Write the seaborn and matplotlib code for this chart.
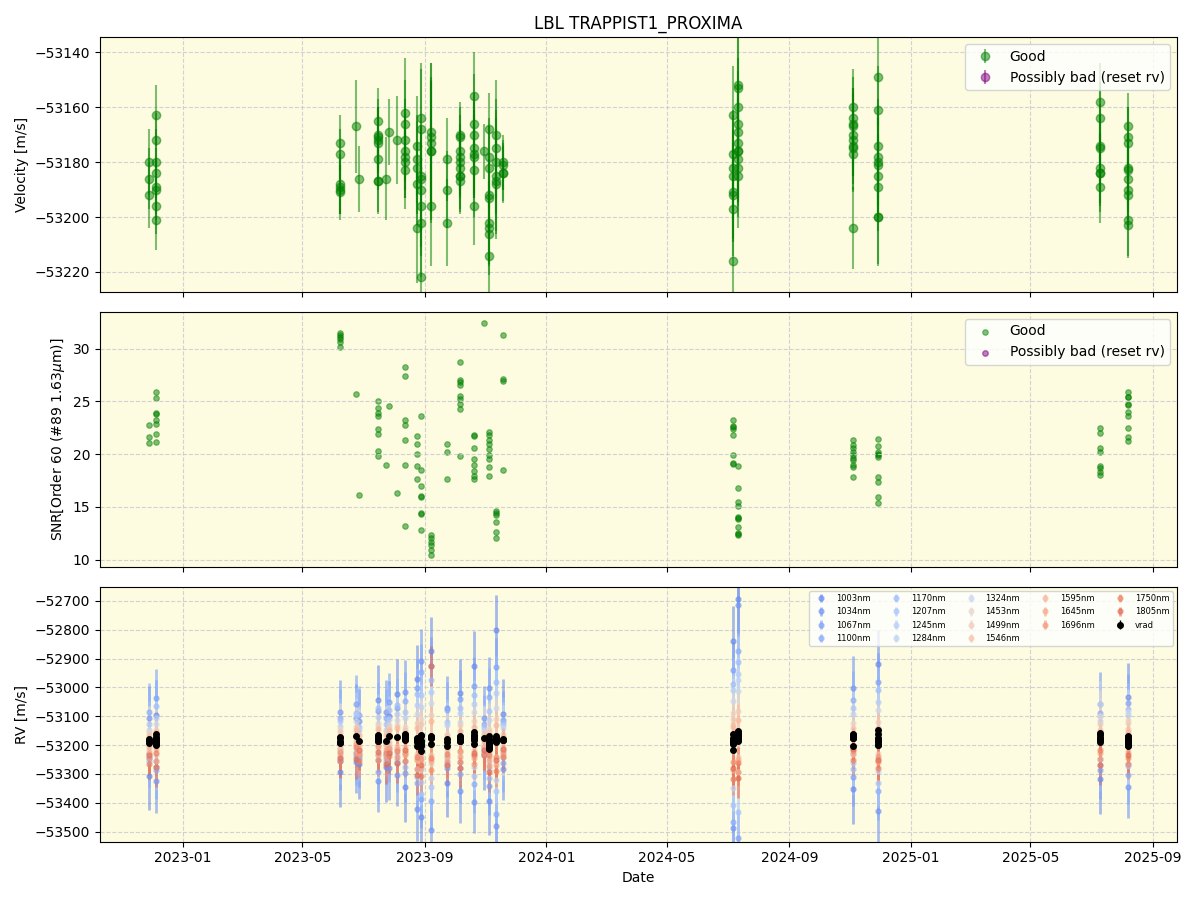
import numpy as np
import pandas as pd
import matplotlib
matplotlib.use("Agg")
import matplotlib.pyplot as plt
import seaborn as sns

# observing nights and number of exposures per night
night_dates = ["2022-11-28", "2022-12-05", "2023-06-08", "2023-06-24", "2023-06-27",
               "2023-07-16", "2023-07-24", "2023-07-27", "2023-08-04", "2023-08-12",
               "2023-08-24", "2023-08-28", "2023-09-07", "2023-09-23", "2023-10-06",
               "2023-10-20", "2023-10-30", "2023-11-04", "2023-11-11", "2023-11-19",
               "2024-07-06", "2024-07-11", "2024-11-04", "2024-11-29", "2025-07-10",
               "2025-08-07"]
n_per_night = [3, 8, 6, 1, 1, 8, 1, 1, 1, 7, 5, 8, 6, 3, 9, 8, 1, 9, 6, 4, 8, 11, 10, 10, 8, 10]

rv = [-53180, -53186, -53192,
      -53163, -53172, -53180, -53184, -53189, -53190, -53196, -53201,
      -53173, -53177, -53189, -53190, -53191, -53188,
      -53167,
      -53186,
      -53165, -53170, -53171, -53172, -53173, -53179, -53187, -53187,
      -53186,
      -53169,
      -53172,
      -53162, -53166, -53172, -53176, -53178, -53180, -53183,
      -53174, -53179, -53182, -53188, -53204,
      -53164, -53168, -53185, -53186, -53190, -53196, -53202, -53222,
      -53169, -53171, -53173, -53176, -53176, -53196,
      -53179, -53190, -53202,
      -53170, -53171, -53176, -53178, -53180, -53182, -53185, -53185, -53187,
      -53156, -53166, -53170, -53175, -53177, -53178, -53183, -53196,
      -53176,
      -53168, -53178, -53182, -53192, -53193, -53202, -53204, -53206, -53214,
      -53170, -53175, -53180, -53185, -53187, -53188,
      -53180, -53181, -53184, -53184,
      -53163, -53177, -53182, -53185, -53191, -53192, -53197, -53216,
      -53152, -53153, -53160, -53166, -53169, -53173, -53176, -53176, -53179, -53182, -53185,
      -53160, -53164, -53166, -53167, -53170, -53172, -53174, -53175, -53177, -53204,
      -53149, -53161, -53174, -53178, -53180, -53181, -53185, -53189, -53200, -53200,
      -53158, -53164, -53174, -53175, -53182, -53184, -53184, -53189,
      -53167, -53171, -53173, -53182, -53183, -53186, -53190, -53192, -53201, -53203]

rv_err = [12, 11, 12,
          11, 10, 12, 9, 10, 11, 10, 11,
          10, 9, 10, 9, 10, 11,
          17,
          12,
          12, 13, 11, 12, 13, 11, 12, 11,
          15,
          12,
          16,
          20, 16, 15, 14, 15, 13, 14,
          18, 16, 17, 15, 20,
          20, 22, 18, 19, 21, 18, 20, 19,
          25, 27, 24, 26, 25, 22,
          15, 14, 16,
          12, 11, 13, 12, 12, 11, 13, 12, 12,
          16, 18, 15, 17, 16, 15, 17, 14,
          10,
          13, 14, 15, 13, 14, 15, 14, 15, 14,
          20, 18, 19, 21, 18, 20,
          10, 9, 11, 10,
          18, 16, 19, 17, 18, 16, 17, 14,
          20, 22, 18, 19, 17, 20, 18, 19, 17, 18, 19,
          14, 15, 13, 14, 15, 13, 14, 15, 14, 15,
          18, 16, 17, 15, 16, 17, 15, 16, 18, 17,
          14, 13, 15, 12, 13, 12, 14, 13,
          12, 11, 13, 12, 13, 12, 11, 12, 13, 12]

snr = [22.8, 21.6, 21.1,
       25.9, 25.3, 23.9, 23.8, 23.2, 22.9, 21.9, 21.2,
       31.5, 31.3, 31.1, 30.9, 30.6, 30.2,
       25.7,
       16.1,
       25.0, 24.4, 23.9, 23.6, 22.4, 21.9, 20.3, 19.8,
       19.0,
       24.6,
       16.3,
       28.3, 27.4, 23.2, 22.8, 21.3, 19.0, 13.2,
       21.7, 21.0, 20.0, 18.9, 17.6,
       23.6, 18.5, 17.0, 16.0, 15.9, 14.4, 14.3, 12.8,
       12.3, 12.0, 11.7, 11.4, 10.9, 10.4,
       21.0, 20.2, 17.6,
       28.7, 27.0, 26.8, 26.6, 25.5, 25.2, 24.8, 24.3, 19.8,
       21.8, 21.7, 20.6, 19.5, 19.0, 18.4, 17.9, 17.6,
       32.4,
       22.1, 21.8, 21.3, 21.0, 20.5, 19.9, 19.5, 18.8, 17.9,
       14.6, 14.4, 14.2, 13.6, 12.6, 12.0,
       18.5, 31.3, 27.1, 26.9,
       23.2, 22.7, 22.6, 22.4, 21.8, 19.9, 19.2, 19.1,
       18.9, 16.8, 15.5, 15.1, 14.0, 13.9, 13.8, 13.1, 12.5, 12.4, 12.3,
       21.3, 20.9, 20.6, 20.2, 19.9, 19.6, 19.4, 19.0, 18.8, 17.8,
       21.4, 20.8, 20.2, 20.0, 19.9, 19.7, 17.8, 17.4, 15.9, 15.4,
       22.5, 22.0, 20.6, 20.2, 18.9, 18.7, 18.3, 18.0,
       25.9, 25.4, 25.4, 24.8, 24.7, 24.0, 23.6, 22.5, 21.6, 21.25]

# per-band RVs: nightly vrad and offset of each band from it (m/s)
night_vrad = [-53186, -53186, -53185, -53167, -53186, -53173, -53186, -53169, -53172, -53176,
              -53182, -53188, -53175, -53190, -53180, -53176, -53176, -53193, -53180, -53182,
              -53188, -53173, -53172, -53180, -53178, -53184]
wavelengths = [1003, 1034, 1067, 1100, 1170, 1207, 1245, 1284, 1324,
               1453, 1499, 1546, 1595, 1645, 1696, 1750, 1805]
wave_err = [120, 110, 100, 100, 90, 80, 80, 80, 80, 90, 70, 60, 55, 50, 50, 55, 70]

dv_1003 = [-120, 90, -110, 60, -80, 130, -90, 70, 150, -170, 210, -260, 300, -140, 160, 250, -60, -200, 380, 90, 350, 480, -180, 260, -140, 150]
dv_1034 = [80, -140, 100, -90, 70, -150, 100, -110, -130, 160, -240, 280, -320, 120, -180, -220, 70, 190, -300, -100, -300, 460, 170, -250, 120, -160]
dv_1067 = [-60, 150, -70, 110, -60, 90, -50, 120, 100, -120, 180, -200, 250, -90, 140, 180, -40, -150, 250, 70, 250, -350, -140, 200, -110, 130]
dv_1100 = [100, -100, 80, -70, 90, -120, 80, -60, -90, 130, -150, 240, -220, 110, -120, -160, 50, 160, -260, -80, -280, 300, 130, -180, 90, -120]
dv_1170 = [-70, 120, -60, 80, -50, 100, -70, 90, 110, -100, 160, -180, 200, -80, 110, 150, -50, -120, 200, 60, 200, 260, -110, 170, -90, 110]
dv_1207 = [60, -90, 70, -60, 50, -80, 60, -50, -80, 90, -130, 160, -170, 70, -100, -130, 40, 110, -180, -60, -220, -260, 100, -150, 80, -90]
dv_1245 = [-50, 80, -40, 70, -40, 70, -50, 60, 80, -80, 120, -140, 160, -60, 90, 120, -30, -90, 160, 50, 180, 220, -90, 130, -70, 90]
dv_1284 = [40, -70, 50, -50, 40, -60, 40, -40, -60, 70, -100, 120, -140, 60, -80, -100, 30, 80, -140, -40, -160, 200, 80, -110, 60, -80]
dv_1324 = [-40, 60, -30, 50, -30, 50, -40, 40, 60, -50, 90, -100, 120, -50, 60, 90, -30, -70, 110, 40, 140, 160, -60, 100, 120, 100]
dv_1453 = [30, -50, 40, -30, 20, -40, 30, -30, -40, 40, -70, 80, -90, 30, -50, -60, 20, 50, -80, -30, 100, -120, 50, -70, 80, 70]
dv_1499 = [-30, 40, -20, 30, -30, 40, -20, 30, 40, -40, 60, -70, 80, -30, 50, 60, -20, -50, 70, 20, 80, 90, -40, 60, 50, 60]
dv_1546 = [20, -30, 30, -20, 20, -30, 20, -20, -30, 30, -50, 60, -60, 20, -40, -40, 10, 40, -60, -20, 60, -70, 30, -50, 30, 40]
dv_1595 = [-20, 30, -30, 20, -20, 30, -10, 20, 30, -30, 40, -50, 60, -20, 30, 40, -10, -30, 50, 10, 50, 60, -30, 40, 20, 30]
dv_1645 = [-40, -20, -50, -30, -40, -60, -30, -50, -40, -60, -70, -90, -80, -50, -60, -70, -30, -60, -90, -40, -100, -80, -60, -80, -50, -40]
dv_1696 = [-60, -70, -40, -60, -50, -30, -60, -40, -70, -50, -100, -60, -110, -70, -40, -90, -50, -80, -60, -50, -70, -120, -50, -60, -70, -60]
dv_1750 = [-80, -40, -70, -40, -70, -80, -40, -70, -50, -80, -60, -120, -70, -40, -80, -60, -60, -40, -110, -60, -130, -90, -80, -100, -40, -80]
dv_1805 = [-50, -90, -60, -80, -30, -50, -80, -60, -90, -40, -120, -80, 250, -80, -100, -50, -40, -100, -70, -30, -90, -140, -40, -70, -90, -50]

band_dv = [dv_1003, dv_1034, dv_1067, dv_1100, dv_1170, dv_1207, dv_1245, dv_1284, dv_1324,
           dv_1453, dv_1499, dv_1546, dv_1595, dv_1645, dv_1696, dv_1750, dv_1805]

nights = pd.to_datetime(night_dates)
df = pd.DataFrame({
    "date": np.repeat(nights, n_per_night),
    "rv": rv,
    "rv_err": rv_err,
    "snr": snr,
})

fig, axs = plt.subplots(3, 1, figsize=(12, 9), sharex=True)
ax1, ax2, ax3 = axs

# velocity panel
ax1.errorbar(df["date"], df["rv"], yerr=df["rv_err"], fmt="o", color="green",
             alpha=0.5, ms=6, elinewidth=1.5, label="Good")
ax1.errorbar([], [], yerr=[], fmt="o", color="purple", alpha=0.5, ms=6,
             elinewidth=1.5, label="Possibly bad (reset rv)")
ax1.set_ylabel("Velocity [m/s]")
ax1.set_ylim(-53227.3, -53134.5)
ax1.set_title("LBL TRAPPIST1_PROXIMA")
ax1.legend(loc="upper right")

# SNR panel
sns.scatterplot(data=df, x="date", y="snr", ax=ax2, color="green", alpha=0.5,
                s=16, edgecolor="green", linewidth=0.8, label="Good")
ax2.scatter([], [], color="purple", alpha=0.5, s=16, label="Possibly bad (reset rv)")
ax2.set_ylabel("SNR[Order 60 (#89 1.63$\\mu$m)]")
ax2.legend(loc="upper right")

# per-band RV panel
cmap = plt.cm.coolwarm
wmin, wmax = min(wavelengths), max(wavelengths)
for w, dv, err in zip(wavelengths, band_dv, wave_err):
    col = cmap(0.15 + 0.7 * (w - wmin) / (wmax - wmin))
    ax3.errorbar(nights, np.array(night_vrad) + np.array(dv), yerr=err, fmt="o",
                 color=col, alpha=0.6, ms=3.5, elinewidth=2, label=f"{w}nm")
ax3.errorbar(df["date"], df["rv"], yerr=df["rv_err"] * 0.4, fmt="o", color="black",
             ms=4, elinewidth=1, label="vrad")
ax3.set_ylabel("RV [m/s]")
ax3.set_ylim(-53535, -52651)
ax3.set_xlabel("Date")
ax3.legend(loc="upper right", ncol=5, fontsize=6)

for ax in axs:
    ax.set_facecolor("#fdfce0")
    ax.grid(True, linestyle="--", color="#c8c8d0", alpha=0.8)
    ax.yaxis.get_major_formatter().set_useOffset(False)

fig.tight_layout()
fig.savefig("out.png", dpi=100)
